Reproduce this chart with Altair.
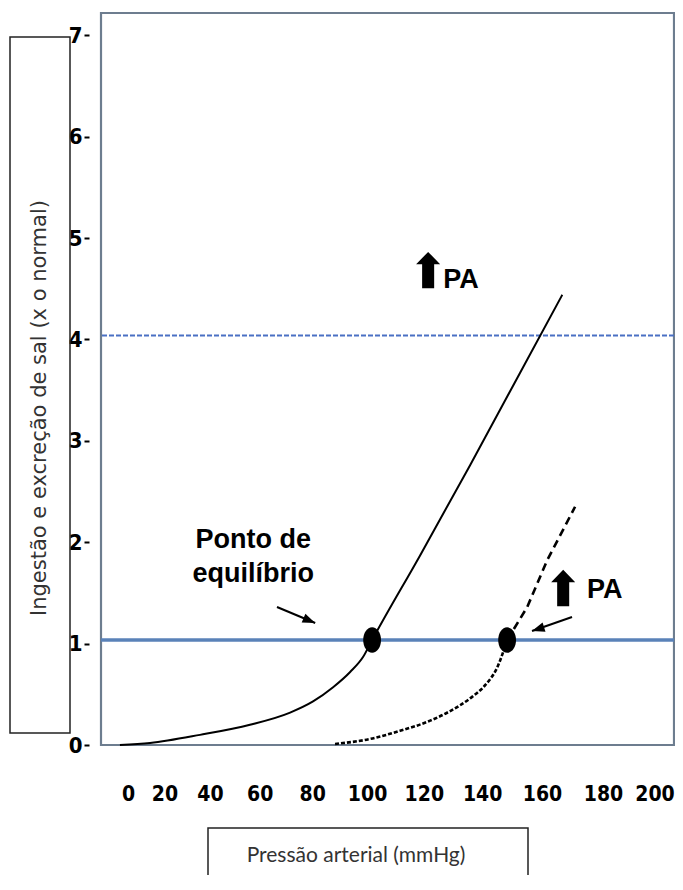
import altair as alt
import pandas as pd

# ---- data ----
x_ticks = [0, 20, 40, 60, 80, 100, 120, 140, 160, 180, 200]
y_ticks = [0, 1, 2, 3, 4, 5, 6, 7]

# solid curve (normal kidney)
solid_x = [-5.5, 13.0, 35.8, 56.2, 71.7, 80.3, 87.7, 93.9, 98.6, 101.8, 118.7, 135.9, 152.7, 166.7]
solid_y = [0.0, 0.02, 0.10, 0.20, 0.32, 0.43, 0.57, 0.72, 0.87, 1.035, 1.87, 2.76, 3.67, 4.44]

# dashed curve (shifted), lower part
dlo_x = [88.4, 101.1, 111.7, 122.2, 129.1, 135.9, 141.0, 145.0, 148.4]
dlo_y = [0.01, 0.06, 0.14, 0.24, 0.335, 0.46, 0.59, 0.76, 1.035]
# dashed curve, upper part
dhi_x = [148.4, 155.1, 161.7, 170.9]
dhi_y = [1.035, 1.36, 1.82, 2.35]

# equilibrium points
eq_x = [101.8, 148.4]
eq_y = [1.035, 1.035]

# intake levels
intake_normal = [1.035]
intake_high = [4.04]

# annotations
lbl_text = ["Ponto de", "equilíbrio"]
lbl_x = [57.5, 57.5]
lbl_y = [1.943, 1.607]

pa_text = ["PA", "PA"]
pa_x = [126.7, 174.8]
pa_y = [4.507, 1.450]

up_x = [121.5, 167.0]
up_y = [4.684, 1.548]

arr_x = [66.7, 169.9]
arr_y = [1.361, 1.262]
arr_x2 = [81.1, 156.7]
arr_y2 = [1.203, 1.124]
arr_dir = [113, 252]

y_title = "Ingestão e excreção de sal (x o normal)"
x_title = "Pressão arterial (mmHg)"

# ---- chart ----
W, H = 573, 732
NARROW = "Liberation Sans Narrow, DejaVu Sans Condensed, Liberation Sans, Arial"
BOLD = "Liberation Sans, Arial, Helvetica"

xs = alt.Scale(type="pow", exponent=1.168, domain=[-15.46, 202.8], nice=False, zero=False)
ys = alt.Scale(domain=[0, 7.22], nice=False, zero=False)

xaxis = alt.Axis(values=x_ticks, labelFont=NARROW, labelFontSize=21, labelFontWeight="bold",
                 labelColor="black", domain=False, ticks=False, labelPadding=38, grid=False,
                 title=None, labelFlush=15, labelFlushOffset=9, labelOverlap=False)
yaxis = alt.Axis(values=y_ticks, labelFont=NARROW, labelFontSize=22, labelFontWeight="bold",
                 labelColor="black", domain=False, ticks=True, tickColor="black", tickWidth=2,
                 tickSize=5, offset=12, labelPadding=2, grid=False, title=None,
                 labelFlush=False, labelOverlap=False)

X = lambda f="x": alt.X(f"{f}:Q", scale=xs, axis=xaxis)
Y = lambda f="y": alt.Y(f"{f}:Q", scale=ys, axis=yaxis)

solid = alt.Chart(pd.DataFrame({"x": solid_x, "y": solid_y})).mark_line(
    color="black", strokeWidth=2, interpolate="monotone").encode(x=X(), y=Y())

dlo = alt.Chart(pd.DataFrame({"x": dlo_x, "y": dlo_y})).mark_line(
    color="black", strokeWidth=2.6, strokeDash=[4, 2], interpolate="monotone").encode(x=X(), y=Y())

dhi = alt.Chart(pd.DataFrame({"x": dhi_x, "y": dhi_y})).mark_line(
    color="black", strokeWidth=2.6, strokeDash=[8, 5]).encode(x=X(), y=Y())

rule_norm = alt.Chart(pd.DataFrame({"y": intake_normal})).mark_rule(
    color="#5a82b8", strokeWidth=3.5).encode(y=Y())
rule_high = alt.Chart(pd.DataFrame({"y": intake_high})).mark_rule(
    color="#4a70c4", strokeWidth=2, strokeDash=[5, 2]).encode(y=Y())

ellipse = "M 0 -1 A 0.7 1 0 1 1 0 1 A 0.7 1 0 1 1 0 -1 Z"
eq = alt.Chart(pd.DataFrame({"x": eq_x, "y": eq_y})).mark_point(
    shape=ellipse, size=650, filled=True, color="black", opacity=1).encode(x=X(), y=Y())

labels = alt.Chart(pd.DataFrame({"x": lbl_x, "y": lbl_y, "t": lbl_text})).mark_text(
    font=BOLD, fontSize=27, fontWeight="bold", align="center", baseline="alphabetic",
    color="black").encode(x=X(), y=Y(), text="t:N")

pa = alt.Chart(pd.DataFrame({"x": pa_x, "y": pa_y, "t": pa_text})).mark_text(
    font=BOLD, fontSize=27, fontWeight="bold", align="left", baseline="alphabetic",
    color="black").encode(x=X(), y=Y(), text="t:N")

big_arrow = "M -0.33 1 L 0.33 1 L 0.33 -0.32 L 0.66 -0.32 L 0 -1 L -0.66 -0.32 L -0.33 -0.32 Z"
ups = alt.Chart(pd.DataFrame({"x": up_x, "y": up_y})).mark_point(
    shape=big_arrow, size=1330, filled=True, color="black", opacity=1).encode(x=X(), y=Y())

arr_df = pd.DataFrame({"x": arr_x, "y": arr_y, "x2": arr_x2, "y2": arr_y2, "a": arr_dir})
thin = alt.Chart(arr_df).mark_rule(color="black", strokeWidth=2).encode(
    x=X(), y=Y(), x2="x2:Q", y2="y2:Q")
head_shape = "M 0 0 L -0.75 2 L 0.75 2 Z"
heads = alt.Chart(arr_df).mark_point(shape=head_shape, size=160, filled=True, color="black",
                                     opacity=1).encode(
    x=X("x2"), y=Y("y2"), angle=alt.Angle("a:Q", scale=None))

one = pd.DataFrame({"k": [0]})
ybox = alt.Chart(one).mark_rect(filled=False, stroke="#222", strokeWidth=1.5).encode(
    x=alt.value(-91), x2=alt.value(-31), y=alt.value(24), y2=alt.value(720))
ytext = alt.Chart(one).mark_text(font="DejaVu Sans", fontSize=21, angle=270, color="#333",
                                 align="center", baseline="middle").encode(
    x=alt.value(-61), y=alt.value(395), text=alt.value(y_title))
xbox = alt.Chart(one).mark_rect(filled=False, stroke="#222", strokeWidth=1.5).encode(
    x=alt.value(107), x2=alt.value(427), y=alt.value(815), y2=alt.value(905))
xtext = alt.Chart(one).mark_text(font="Lato, Open Sans, sans-serif", fontSize=21, color="#333",
                                 align="center", baseline="middle").encode(
    x=alt.value(255), y=alt.value(843), text=alt.value(x_title))

chart = alt.layer(
    rule_high, rule_norm, solid, dlo, dhi, eq, thin, heads, ups, labels, pa,
    ybox, ytext, xbox, xtext
).properties(
    width=W, height=H,
    autosize=alt.AutoSizeParams(type="none"),
    padding={"left": 93, "top": 5, "right": 1, "bottom": 130},
    background="white",
).configure_view(stroke="#6d7d8f", strokeWidth=2.2)

chart.save("out.html", embed_options={"renderer": "svg", "actions": False})
